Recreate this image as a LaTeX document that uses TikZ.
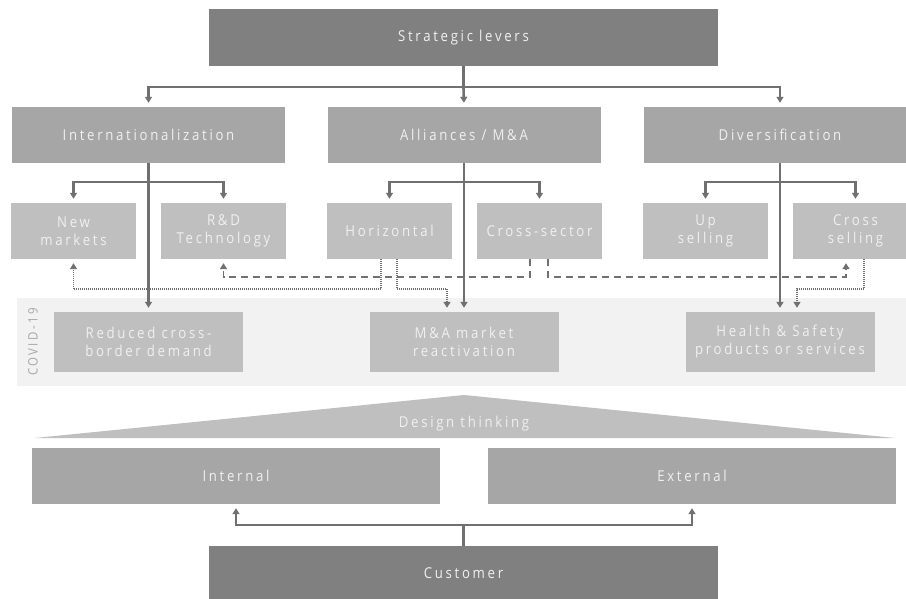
\documentclass[tikz,border=0pt]{standalone}
\usepackage{fontspec}
\setmainfont{Open Sans}[LetterSpace=18,FakeStretch=0.88]
\usetikzlibrary{arrows.meta}
\definecolor{darkfill}{HTML}{808080}
\definecolor{midfill}{HTML}{A6A6A6}
\definecolor{lightfill}{HTML}{BFBFBF}
\definecolor{bandfill}{HTML}{F2F2F2}
\definecolor{linkgray}{HTML}{707070}
\definecolor{boxtext}{HTML}{F0F0F0}
\begin{document}
\begin{tikzpicture}[x=1pt,y=-1pt,
    lever/.style={fill=#1,text=boxtext,inner sep=0pt,align=center,
      font=\fontsize{15}{18}\selectfont},
    lever/.default=midfill,
    sublever/.style={lever=lightfill,minimum width=125pt,minimum height=56pt},
    impact/.style={sublever,minimum width=189pt,minimum height=60pt},
    link/.style={draw=linkgray,line width=2.6pt},
    arr/.style={link,-{Triangle[width=7pt,length=6pt]},shorten >=4pt},
    dotlink/.style={draw=linkgray,line width=1.6pt,dash pattern=on 1pt off 1pt,
      -{Triangle[width=7pt,length=6pt]},shorten >=4pt},
    dashlink/.style={draw=linkgray,line width=1.6pt,dash pattern=on 7pt off 5pt,
      -{Triangle[width=7pt,length=6pt]},shorten >=4pt},
  ]
  \useasboundingbox (0,0) rectangle (906,599);
  \clip (0,0) rectangle (906,599);
  % covid band
  \fill[bandfill] (17,298) rectangle (906,386);
  \node[rotate=90,text=midfill,font=\fontsize{13}{15}\selectfont] (covid) at (33,342) {COVID-19};
  % top
  \node[lever=darkfill,minimum width=509pt,minimum height=57pt] (lev) at (463.5,37.5) {Strategic levers};
  \node[lever,minimum width=273pt,minimum height=56pt] (intl) at (148.5,135) {Internationalization};
  \node[lever,minimum width=273pt,minimum height=56pt] (alli) at (464,135) {Alliances / M\&A};
  \node[lever,minimum width=273pt,minimum height=56pt] (divs) at (780,135) {Diversification};
  \node[sublever] (nmkt) at (73.5,231) {New\\markets};
  \node[sublever] (rnd) at (223.5,231) {R\&D\\Technology};
  \node[sublever] (horz) at (389.5,231) {Horizontal};
  \node[sublever] (xsec) at (539.5,231) {Cross-sector};
  \node[sublever] (upsl) at (705.5,231) {Up\\selling};
  \node[sublever] (xsel) at (855.5,231) {Cross\\selling};
  \node[impact] (redu) at (148.5,342) {Reduced cross-\\border demand};
  \node[impact] (mamr) at (464,342) {M\&A market\\reactivation};
  \node[impact] (hlth) at (780,342) {Health \& Safety\\products or services};
  % design thinking
  \fill[lightfill] (464,395) -- (895,438) -- (35,438) -- cycle;
  \node[text=boxtext,font=\fontsize{15}{18}\selectfont] (dsgn) at (464,424) {Design thinking};
  \node[lever,minimum width=408pt,minimum height=56pt] (int) at (236,476) {Internal};
  \node[lever,minimum width=408pt,minimum height=56pt] (ext) at (692,476) {External};
  \node[lever=darkfill,minimum width=509pt,minimum height=54pt] (cust) at (463.5,573) {Customer};
  % levers
  \draw[link] (lev.south) -- ++(0,21) coordinate (levb);
  \draw[arr] (levb) -| (intl.north);
  \draw[arr] (levb) -- (alli.north);
  \draw[arr] (levb) -| (divs.north);
  \foreach \p/\l/\r/\c in {intl/nmkt/rnd/redu, alli/horz/xsec/mamr, divs/upsl/xsel/hlth} {
    \draw[link] (\p.south) -- ++(0,19) coordinate (\p b);
    \draw[arr] (\p b) -| (\l.north);
    \draw[arr] (\p b) -| (\r.north);
    \draw[arr] (\p.south) -- (\c.north);
  }
  % cross links
  \draw[dotlink] ([xshift=-8.5pt]horz.south) -- ++(0,30) -| (nmkt.south);
  \draw[dotlink] ([xshift=7.5pt]horz.south) -- ++(0,30) -| ([xshift=-17pt]mamr.north);
  \draw[dashlink] ([xshift=-9.5pt]xsec.south) -- ++(0,18) -| (rnd.south);
  \draw[dashlink] ([xshift=8.5pt]xsec.south) -- ++(0,18) -| ([xshift=-9.5pt]xsel.south);
  \draw[dotlink] ([xshift=8.5pt]xsel.south) -- ++(0,30) -| ([xshift=17pt]hlth.north);
  % customer
  \draw[link] (cust.north) -- ++(0,-21) coordinate (custb);
  \draw[arr] (custb) -| (int.south);
  \draw[arr] (custb) -| (ext.south);
\end{tikzpicture}
\end{document}
